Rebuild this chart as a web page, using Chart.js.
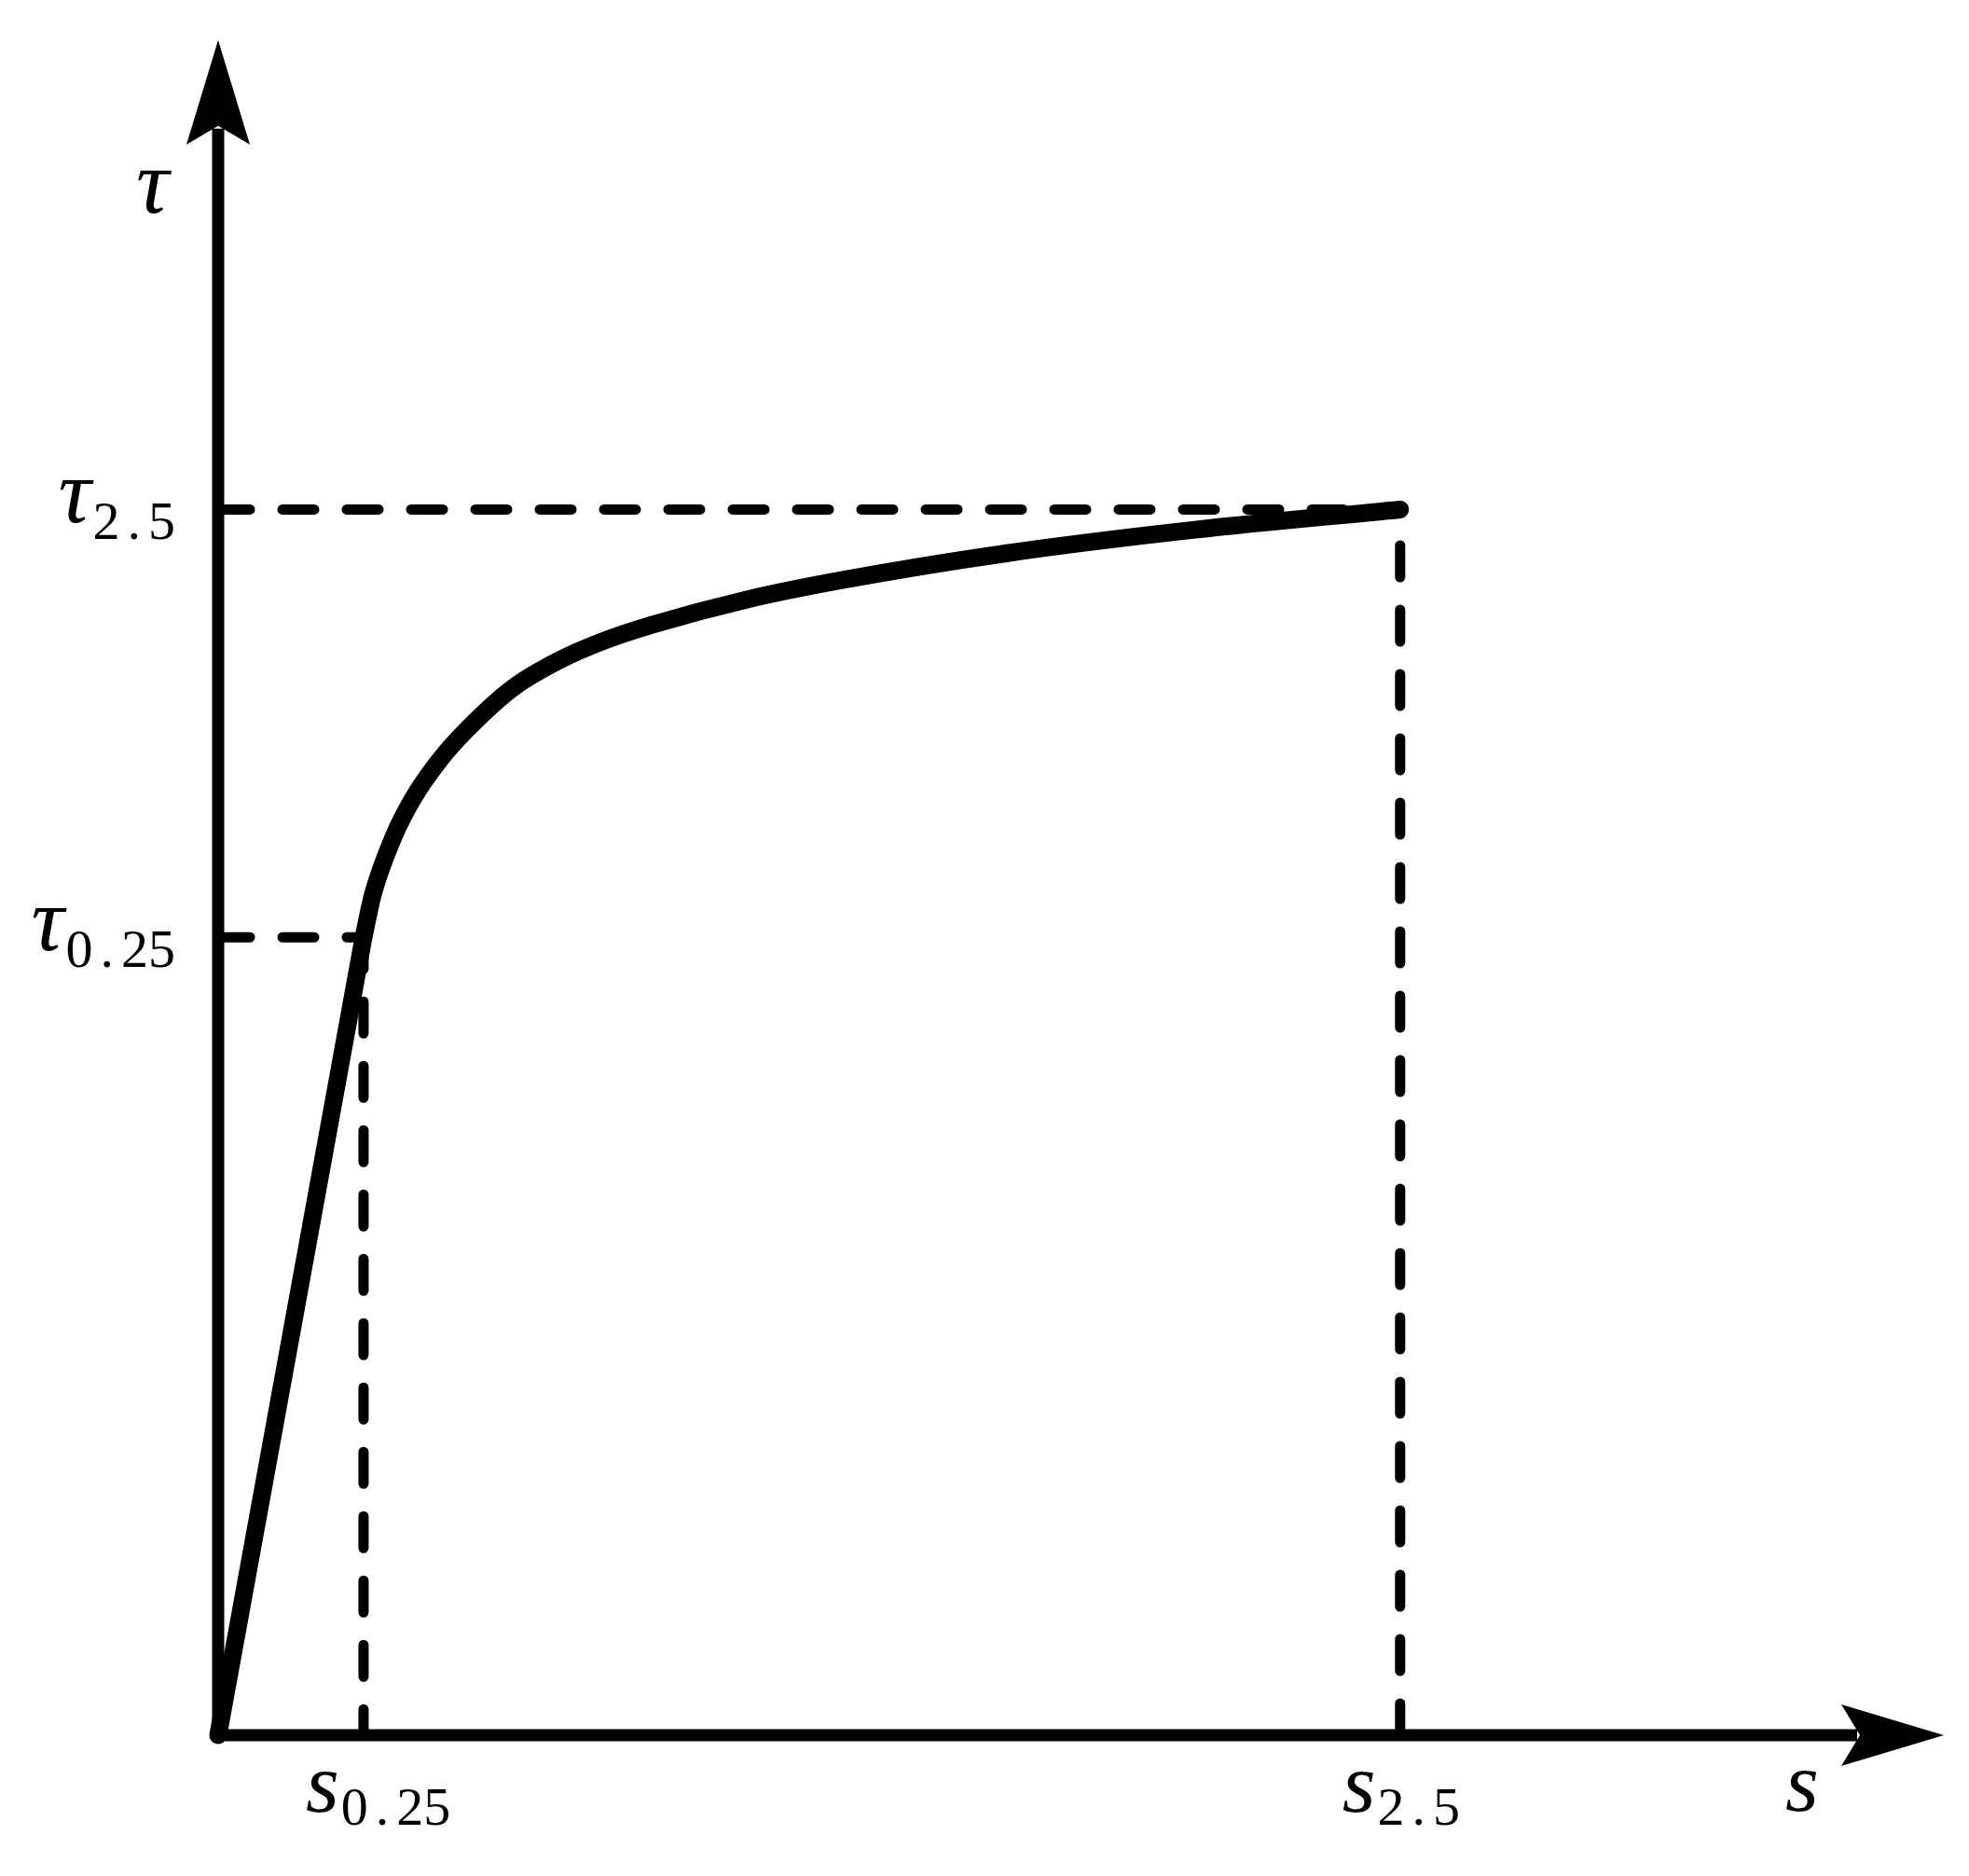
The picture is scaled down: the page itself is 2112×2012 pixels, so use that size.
<!DOCTYPE html>
<html lang="en">
<head>
  <meta charset="UTF-8">
  <title>Bond–slip curve</title>
  <script src="https://cdn.jsdelivr.net/npm/chart.js"></script>
  <style>
    html, body {
      margin: 0;
      padding: 0;
      background: #ffffff;
    }

    canvas {
      display: block;
    }
  </style>
</head>
<body>

<canvas id="slipChart" width="2112" height="2012"></canvas>

<script>
  // straight rising branch, origin -> s0.25
  const sLinear = [0, 1.23];
  const tauLinear = [0, 6.51];

  // curved branch, s0.25 -> s2.5 (arbitrary units, s2.5 = tau2.5 = 10)
  const sCurve = [1.23, 1.309, 1.484, 1.643, 1.862, 2.099, 2.493, 2.888, 3.282, 3.677, 4.466, 5.255, 6.677, 8.246, 10];
  const tauCurve = [6.51, 6.859, 7.33, 7.633, 7.941, 8.199, 8.544, 8.771, 8.935, 9.061, 9.264, 9.42, 9.644, 9.833, 10];

  // marked points and their labels
  const sMarks = [1.23, 10];
  const tauMarks = [6.51, 10];
  const markLabels = ['0.25', '2.5'];

  // axis extent (where the arrow tips sit)
  const sMax = 14.6;
  const tauMax = 13.83;

  const toPoints = (xs, ys) => xs.map((x, i) => ({ x: x, y: ys[i] }));

  const dashed = (points) => ({
    data: points,
    showLine: true,
    borderColor: '#000',
    borderWidth: 11,
    borderDash: [34, 35],
    borderCapStyle: 'round',
    pointRadius: 0,
    tension: 0,
    clip: false
  });

  const datasets = [];
  sMarks.forEach((s, i) => {
    const t = tauMarks[i];
    // horizontal guide from the tau axis to the curve
    datasets.push(dashed([{ x: 0, y: t }, { x: s, y: t }]));
  });
  // vertical guides: s0.25 drawn top-down, s2.5 bottom-up
  datasets.push(dashed([{ x: sMarks[0], y: tauMarks[0] }, { x: sMarks[0], y: 0 }]));
  datasets.push(dashed([{ x: sMarks[1], y: 0 }, { x: sMarks[1], y: tauMarks[1] }]));

  datasets.push({
    data: toPoints(sLinear, tauLinear),
    showLine: true,
    borderColor: '#000',
    borderWidth: 19,
    borderCapStyle: 'round',
    borderJoinStyle: 'round',
    pointRadius: 0,
    tension: 0,
    clip: false
  });
  datasets.push({
    data: toPoints(sCurve, tauCurve),
    showLine: true,
    borderColor: '#000',
    borderWidth: 19,
    borderCapStyle: 'round',
    borderJoinStyle: 'round',
    pointRadius: 0,
    cubicInterpolationMode: 'monotone',
    clip: false
  });

  // symbol in italic, subscript upright with a bit of air round the dot
  function drawSymbol(ctx, sym, size, sub, x, y, subDy, align) {
    const mainFont = 'italic ' + size + 'px "Liberation Serif"';
    const subFont = '58px "Liberation Serif"';
    const dotPad = 8;
    ctx.font = mainFont;
    const wMain = ctx.measureText(sym).width;
    ctx.font = subFont;
    let wSub = 0;
    for (const ch of sub) {
      wSub += ctx.measureText(ch).width + (ch === '.' ? 2 * dotPad : 0);
    }
    let left = x;
    if (align === 'right') left = x - wMain - wSub;
    ctx.fillStyle = '#000';
    ctx.textBaseline = 'alphabetic';
    ctx.textAlign = 'left';
    ctx.font = mainFont;
    ctx.fillText(sym, left, y);
    let cx = left + wMain + 2;
    ctx.font = subFont;
    for (const ch of sub) {
      if (ch === '.') cx += dotPad;
      ctx.fillText(ch, cx, y + subDy);
      cx += ctx.measureText(ch).width + (ch === '.' ? dotPad : 0);
    }
  }

  const axesPlugin = {
    id: 'axesArrows',
    beforeDatasetsDraw(chart) {
      const ctx = chart.ctx;
      const area = chart.chartArea;
      const x0 = chart.scales.x.getPixelForValue(0);
      const y0 = chart.scales.y.getPixelForValue(0);
      ctx.save();
      ctx.strokeStyle = '#000';
      ctx.fillStyle = '#000';
      ctx.lineWidth = 13;
      ctx.lineCap = 'butt';

      // tau axis
      ctx.beginPath();
      ctx.moveTo(x0, y0 + 6);
      ctx.lineTo(x0, area.top + 95);
      ctx.stroke();
      ctx.beginPath();
      ctx.moveTo(x0, area.top);
      ctx.lineTo(x0 - 34, area.top + 112);
      ctx.lineTo(x0, area.top + 92);
      ctx.lineTo(x0 + 34, area.top + 112);
      ctx.closePath();
      ctx.fill();

      // s axis
      ctx.beginPath();
      ctx.moveTo(x0 - 6, y0);
      ctx.lineTo(area.right - 93, y0);
      ctx.stroke();
      ctx.beginPath();
      ctx.moveTo(area.right, y0);
      ctx.lineTo(area.right - 110, y0 - 33);
      ctx.lineTo(area.right - 90, y0);
      ctx.lineTo(area.right - 110, y0 + 33);
      ctx.closePath();
      ctx.fill();
      ctx.restore();
    },
    afterDraw(chart) {
      const ctx = chart.ctx;
      const area = chart.chartArea;
      const xs = chart.scales.x;
      const ys = chart.scales.y;
      const x0 = xs.getPixelForValue(0);
      const y0 = ys.getPixelForValue(0);
      ctx.save();

      // axis names
      ctx.fillStyle = '#000';
      ctx.textAlign = 'left';
      ctx.textBaseline = 'alphabetic';
      ctx.font = 'italic 98px "Liberation Serif"';
      ctx.fillText('τ', x0 - 88, area.top + 185);
      ctx.font = 'italic 92px "Liberation Serif"';
      ctx.fillText('s', area.right - 170, y0 + 81);

      markLabels.forEach((lab, i) => {
        const px = xs.getPixelForValue(sMarks[i]);
        const py = ys.getPixelForValue(tauMarks[i]);
        drawSymbol(ctx, 's', 92, lab, px - 62, y0 + 82, 14, 'left');
        drawSymbol(ctx, 'τ', 98, lab, x0 - 48, py + 14, 18, 'right');
      });
      ctx.restore();
    }
  };

  new Chart(document.getElementById('slipChart'), {
    type: 'scatter',
    data: { datasets: datasets },
    options: {
      responsive: false,
      animation: false,
      layout: {
        padding: { left: 234, right: 27, top: 43, bottom: 151 }
      },
      scales: {
        x: { type: 'linear', min: 0, max: sMax, display: false },
        y: { type: 'linear', min: 0, max: tauMax, display: false }
      },
      plugins: {
        legend: { display: false },
        tooltip: { enabled: false }
      }
    },
    plugins: [axesPlugin]
  });
</script>

</body>
</html>
